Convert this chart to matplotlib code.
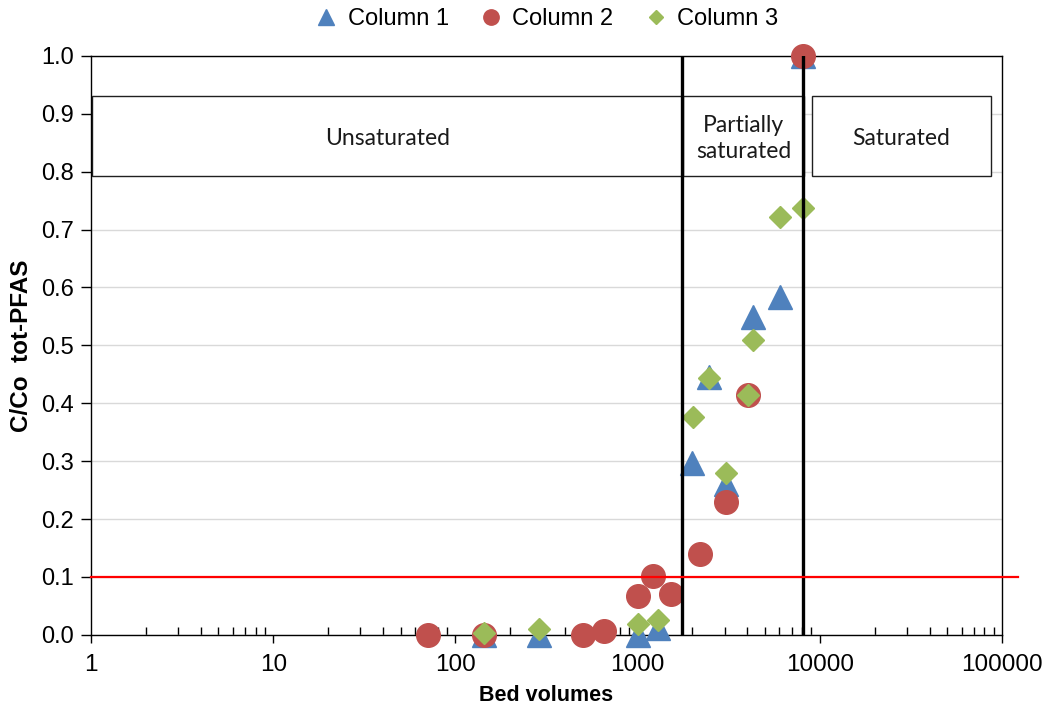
import numpy as np
import matplotlib
matplotlib.use("Agg")
import matplotlib.pyplot as plt
from matplotlib.patches import Rectangle
from matplotlib.ticker import LogLocator, FixedLocator, NullFormatter

plt.rcParams['font.family'] = ['Liberation Sans', 'DejaVu Sans']

# bed volumes and C/Co for each column
col1_x = [144, 286, 1000, 1300, 2000, 2450, 3050, 4300, 6050, 8100]
col1_y = [0.0, 0.0, 0.0, 0.012, 0.296, 0.445, 0.261, 0.549, 0.583, 1.0]

col2_x = [71, 144, 500, 650, 1010, 1220, 1520, 2190, 3050, 4020, 8100]
col2_y = [0.0, 0.0, 0.0, 0.007, 0.068, 0.101, 0.071, 0.139, 0.229, 0.415, 1.0]

col3_x = [144, 286, 1010, 1300, 2010, 2450, 3050, 4020, 4300, 6050, 8100]
col3_y = [0.004, 0.011, 0.019, 0.026, 0.377, 0.443, 0.279, 0.415, 0.509, 0.722, 0.737]

series_names = ["Column 1", "Column 2", "Column 3"]
x_ticks = [1, 10, 100, 1000, 10000, 100000]
y_ticks = [0.0, 0.1, 0.2, 0.3, 0.4, 0.5, 0.6, 0.7, 0.8, 0.9, 1.0]
limit_line = 0.1
zone_bounds = [1750, 8100]
zone_names = ["Unsaturated", "Partially\nsaturated", "Saturated"]

fig = plt.figure(figsize=(10.52, 7.07), dpi=100)
ax = fig.add_axes([0.0865, 0.102, 0.866, 0.819])

ax.set_xscale('log')
ax.set_xlim(1, 100000)
ax.set_ylim(0, 1.0)

ax.yaxis.grid(True, color='#d9d9d9', linewidth=1.0, zorder=0)
ax.set_axisbelow(True)

# zone boxes
boxes = [(0.001, 0.650), (0.650, 0.783), (0.791, 0.988)]
for (x0, x1), name in zip(boxes, zone_names):
    r = Rectangle((x0, 0.793), x1 - x0, 0.137, transform=ax.transAxes,
                  facecolor='white', edgecolor='#202020', linewidth=1.0, zorder=2)
    ax.add_patch(r)
    ax.text((x0 + x1) / 2, 0.857, name, transform=ax.transAxes, ha='center', va='center',
            fontsize=16.5, family=['Lato', 'DejaVu Sans'], color='#1a1a1a', zorder=3,
            linespacing=1.3)

ax.plot(col1_x, col1_y, linestyle='none', marker='^', markersize=17, color='#4F81BD',
        label=series_names[0], zorder=4, clip_on=False)
ax.plot(col2_x, col2_y, linestyle='none', marker='o', markersize=17, color='#C0504D',
        label=series_names[1], zorder=5, clip_on=False)
ax.plot(col3_x, col3_y, linestyle='none', marker='D', markersize=11, color='#9BBB59',
        label=series_names[2], zorder=6, clip_on=False)

for xb in zone_bounds:
    ax.axvline(xb, color='black', linewidth=2.4, zorder=7)
ax.plot([0, 1.017], [limit_line, limit_line], transform=ax.get_yaxis_transform(),
        color='#FF0000', linewidth=1.6, zorder=7, clip_on=False)

for s in ax.spines.values():
    s.set_color('black')
    s.set_linewidth(1.0)

ax.xaxis.set_major_locator(FixedLocator(x_ticks))
ax.set_xticklabels([str(v) for v in x_ticks])
ax.xaxis.set_minor_locator(LogLocator(base=10, subs=np.arange(2, 10)))
ax.xaxis.set_minor_formatter(NullFormatter())
ax.tick_params(axis='x', which='major', direction='out', length=6, width=1, labelsize=17.5, pad=8)
ax.tick_params(axis='x', which='minor', direction='in', length=6, width=1)
ax.set_yticks(y_ticks)
ax.set_yticklabels([f"{v:.1f}" for v in y_ticks])
ax.tick_params(axis='y', direction='out', length=7, width=1, labelsize=17, pad=5)

ax.set_xlabel("Bed volumes", fontsize=15.5, fontweight='bold', labelpad=6)
ax.set_ylabel("C/Co  tot-PFAS", fontsize=17.5, fontweight='bold', labelpad=6)

leg = ax.legend(loc='lower center', bbox_to_anchor=(0.5, 1.02), ncol=3, frameon=False,
                fontsize=17, markerscale=0.65, handletextpad=0.4, columnspacing=1.3,
                handlelength=1.0, borderaxespad=0.2)

fig.savefig("out.png", dpi=100)
